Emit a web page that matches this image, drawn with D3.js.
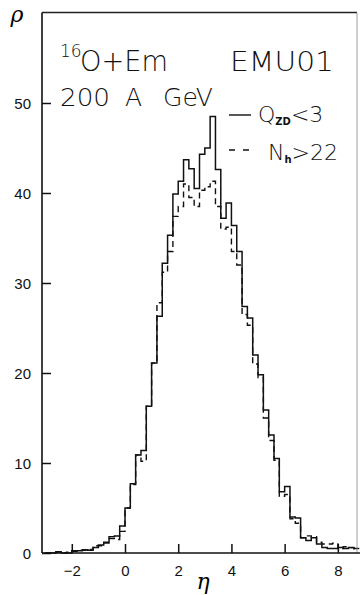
<!DOCTYPE html>
<html><head><meta charset="utf-8">
<script src="https://cdn.jsdelivr.net/npm/d3@7"></script>
<style>
html,body{margin:0;padding:0;background:#fff;}
svg{display:block;}
.thin{font-family:"DejaVu Sans","Liberation Sans",sans-serif;font-weight:200;fill:#111;}
.tick{font-family:"Liberation Sans",Arial,sans-serif;font-size:15px;fill:#111;}
</style>
</head><body>
<svg id="c" width="360" height="595"></svg>
<script>
// bin left edges (eta), width 0.2
const binEdges = [-3.0,-2.8,-2.6,-2.4,-2.2,-2.0,-1.8,-1.6,-1.4,-1.2,-1.0,-0.8,-0.6,-0.4,-0.2,
  0.0,0.2,0.4,0.6,0.8,1.0,1.2,1.4,1.6,1.8,2.0,2.2,2.4,2.6,2.8,3.0,3.2,3.4,3.6,3.8,
  4.0,4.2,4.4,4.6,4.8,5.0,5.2,5.4,5.6,5.8,6.0,6.2,6.4,6.6,6.8,7.0,7.2,7.4,7.6,7.8,
  8.0,8.2,8.4,8.6,8.8];
// Q_ZD < 3 (solid)
const rhoQzd = [0,0,0.15,0,0,0.25,0.25,0.35,0.3,0.6,0.9,1.2,1.8,1.9,3.0,
  5.0,7.7,10.9,11.4,16.3,21.1,26.3,32.2,35.3,39.9,41.3,43.7,42.7,40.5,44.3,45.0,48.5,42.6,37.2,38.9,
  36.4,33.5,27.4,26.1,22.0,19.8,15.9,13.1,10.5,6.8,7.4,4.0,3.9,1.7,1.4,1.7,1.0,0.6,0.5,0.5,
  0.6,0.5,0.6,0.5];
// N_h > 22 (dashed)
const rhoNh = [0,0,0.1,0,0.1,0.2,0.3,0.3,0.4,0.8,0.8,1.1,1.6,1.5,2.4,
  5.0,7.6,10.9,10.2,16.3,21.1,27.8,31.2,33.5,37.4,38.5,41.0,39.5,38.5,40.3,40.7,41.3,38.5,36.0,36.2,
  33.5,32.0,26.5,25.3,21.0,19.5,15.0,12.5,10.3,6.3,6.5,3.8,3.3,1.7,1.9,1.8,1.2,1.0,1.0,1.1,
  0.5,0.7,0.6,0.5];
const xTicks = [-2,0,2,4,6,8];
const xTickLabels = ["\u22122","0","2","4","6","8"];
const yTicks = [0,10,20,30,40,50];

const svg = d3.select("#c");
const x = d3.scaleLinear().domain([-3.12, 8.72]).range([42, 357]);
const y = d3.scaleLinear().domain([0, 60]).range([553, 13]);

function stepPts(vals){
  const pts = vals.map((v,i)=>[binEdges[i], v]);
  pts.push([binEdges[vals.length], vals[vals.length-1]]);
  return pts;
}
const line = d3.line().x(d=>x(d[0])).y(d=>y(d[1])).curve(d3.curveStepAfter);

// dashed first, solid on top
svg.append("path").attr("d", line(stepPts(rhoNh)))
  .attr("fill","none").attr("stroke","#111").attr("stroke-width",1.4).attr("stroke-dasharray","6,4");
svg.append("path").attr("d", line(stepPts(rhoQzd)))
  .attr("fill","none").attr("stroke","#111").attr("stroke-width",1.5);

// frame
svg.append("line").attr("x1",42).attr("x2",357).attr("y1",12.5).attr("y2",12.5).attr("stroke","#222").attr("stroke-width",1.3);
svg.append("line").attr("x1",357).attr("x2",357).attr("y1",12.5).attr("y2",553).attr("stroke","#888").attr("stroke-width",0.8);

// axes
const yAxis = d3.axisLeft(y).tickValues(yTicks).tickSize(-9).tickPadding(12).tickFormat(d3.format("d"));
const gy = svg.append("g").attr("transform","translate(42,0)").call(yAxis);
gy.select(".domain").attr("stroke","#111").attr("stroke-width",1.6).attr("d","M0,12.5V553");
gy.selectAll(".tick line").attr("stroke","#111").attr("stroke-width",1.5);
gy.selectAll(".tick text").attr("class","tick").attr("x",-11).attr("dy","0.36em");

const xAxis = d3.axisBottom(x).tickValues(xTicks).tickSize(-9).tickPadding(10)
  .tickFormat((d,i)=>xTickLabels[i]);
const gx = svg.append("g").attr("transform","translate(0,553)").call(xAxis);
gx.select(".domain").attr("stroke","#111").attr("stroke-width",1.6).attr("d","M42,0H360");
gx.selectAll(".tick line").attr("stroke","#111").attr("stroke-width",1.5);
gx.selectAll(".tick text").attr("class","tick").attr("y",12);

// axis titles
svg.append("text").attr("x",17).attr("y",22).attr("text-anchor","middle")
  .style("font-family","DejaVu Serif, serif").style("font-style","italic").style("font-size","22px").text("\u03C1");
svg.append("text").attr("x",203).attr("y",589).attr("text-anchor","middle")
  .style("font-family","DejaVu Serif, serif").style("font-style","italic").style("font-size","22px").text("\u03B7");

// annotations
svg.append("text").attr("class","thin").attr("x",60).attr("y",57).style("font-size","17px").text("16");
svg.append("text").attr("class","thin").attr("x",80).attr("y",71).style("font-size","29px")
  .attr("textLength",88).attr("lengthAdjust","spacingAndGlyphs").text("O+Em");
svg.append("text").attr("class","thin").attr("x",230).attr("y",71).style("font-size","26px")
  .attr("textLength",104).attr("lengthAdjust","spacingAndGlyphs").text("EMU01");
svg.append("text").attr("class","thin").attr("x",60).attr("y",106).style("font-size","25px")
  .attr("textLength",50).attr("lengthAdjust","spacingAndGlyphs").text("200");
svg.append("text").attr("class","thin").attr("x",125).attr("y",106).style("font-size","25px").text("A");
svg.append("text").attr("class","thin").attr("x",163).attr("y",106).style("font-size","25px")
  .attr("textLength",50).attr("lengthAdjust","spacingAndGlyphs").text("GeV");

// legend
svg.append("line").attr("x1",229).attr("x2",251).attr("y1",115).attr("y2",115).attr("stroke","#111").attr("stroke-width",1.4);
svg.append("line").attr("x1",229).attr("x2",251).attr("y1",150).attr("y2",150).attr("stroke","#111").attr("stroke-width",1.4).attr("stroke-dasharray","6,8");
const l1 = svg.append("text").attr("class","thin").attr("x",258).attr("y",122).style("font-size","22px");
l1.append("tspan").text("Q");
l1.append("tspan").attr("dy",3).style("font-size","10px").style("font-weight","700").text("ZD");
l1.append("tspan").attr("dy",-3).text("<3");
const l2 = svg.append("text").attr("class","thin").attr("x",268).attr("y",160).style("font-size","22px");
l2.append("tspan").text("N");
l2.append("tspan").attr("dy",3).style("font-size","10px").style("font-weight","700").text("h");
l2.append("tspan").attr("dy",-3).text(">22");
</script>
</body></html>
